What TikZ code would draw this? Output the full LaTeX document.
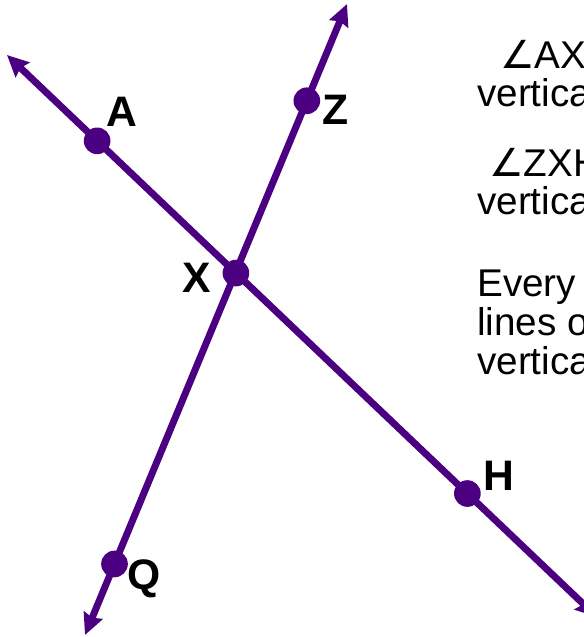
\documentclass[tikz,border=0pt]{standalone}
\usepackage{fontspec}
\setmainfont{Liberation Sans}
\newfontfamily\symfont{DejaVu Sans}
\usetikzlibrary{arrows.meta,calc}
\definecolor{ind}{HTML}{4B0082}
\tikzset{
  ln/.style={draw=ind, line width=5.2pt, {Stealth[length=16pt,width=15pt,inset=2pt]}-{Stealth[length=16pt,width=15pt,inset=2pt]}},
  dot/.style={circle, fill=ind, inner sep=0pt, minimum size=20pt},
  lbl/.style={font=\bfseries\fontsize{32}{32}\selectfont, text=black, inner sep=0pt},
  txt/.style={font=\fontsize{29}{29}\selectfont, text=black, inner sep=0pt, anchor=base west}
}
\begin{document}
\begin{tikzpicture}[x=0.75pt,y=-0.75pt]
\useasboundingbox (0,0) rectangle (584,637);
\begin{scope}
\clip (0,0) rectangle (584,637);
\coordinate (p1) at (7,55);
\coordinate (p2) at (597,617);
\coordinate (q1) at (347,4);
\coordinate (q2) at (85,635);
\draw[ln] (p1) -- (p2);
\draw[ln] (q1) -- (q2);
\node[dot] (A) at ($(p1)!(97,141)!(p2)$) {};
\node[dot] (H) at ($(p1)!(467,494)!(p2)$) {};
\node[dot] (X) at ($(p1)!(236,273)!(p2)$) {};
\node[dot] (Z) at ($(q1)!(305,100)!(q2)$) {};
\node[dot] (Q) at ($(q1)!(112,563)!(q2)$) {};
\node[lbl] (LA) at (122,112) {A};
\node[lbl] (LZ) at (336,110) {Z};
\node[lbl] (LX) at (197,278) {X};
\node[lbl] (LH) at (499,476) {H};
\node[lbl] (LQ) at (144,579) {Q};
\node[txt] (s1) at (500,68) {{\symfont ∠}AX};
\node[txt] (s2) at (477,106) {vertica};
\node[txt] (s3) at (489,176) {{\symfont ∠}ZXH};
\node[txt] (s4) at (477,214) {vertica};
\node[txt] (s5) at (477,296) {Every};
\node[txt] (s6) at (477,335) {lines o};
\node[txt] (s7) at (477,374) {vertica};
\end{scope}
\end{tikzpicture}
\end{document}
